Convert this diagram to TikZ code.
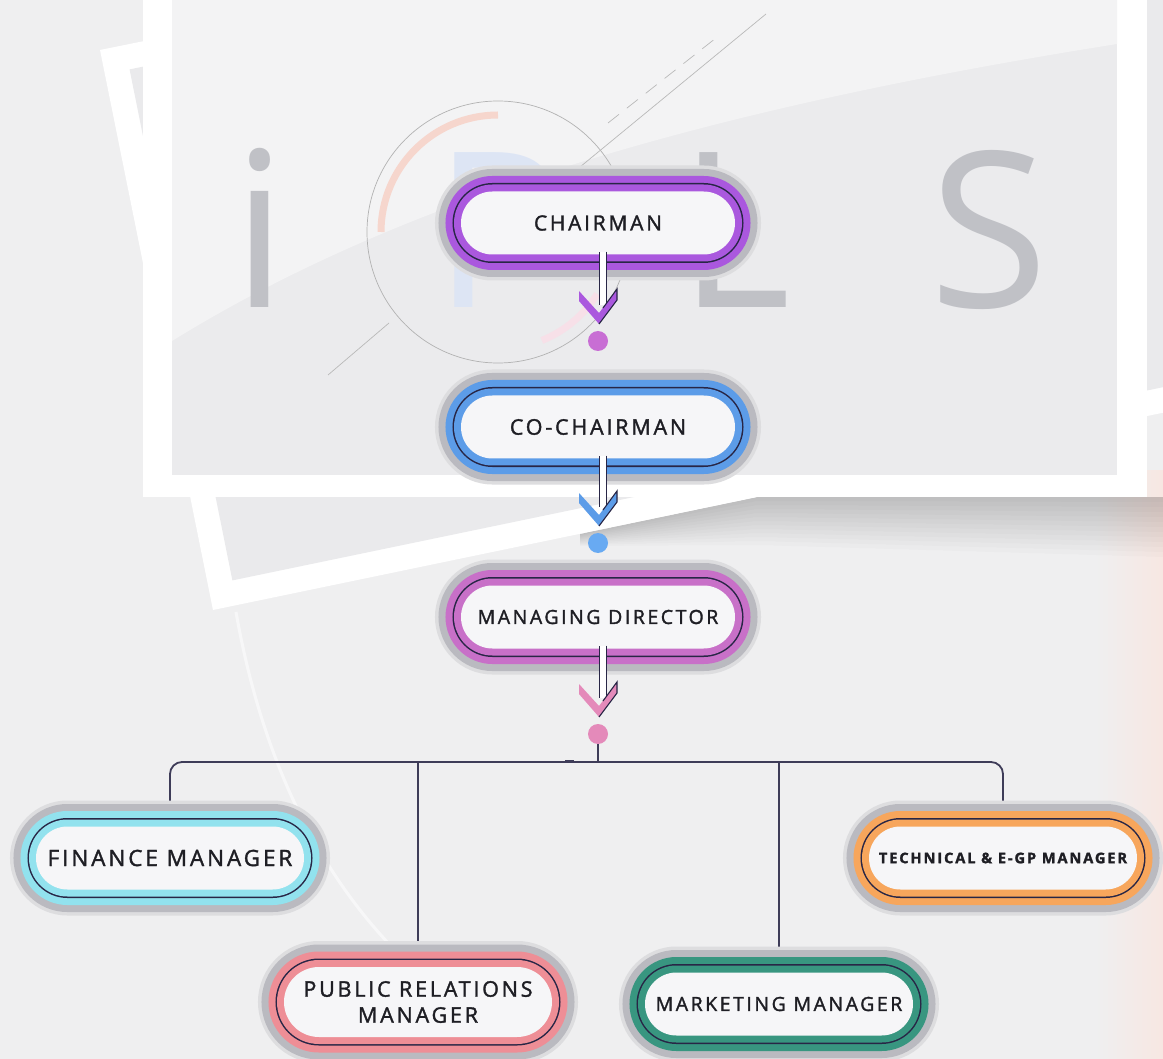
\documentclass[tikz,border=0pt]{standalone}
\usepackage{fontspec}
\setmainfont{Open Sans}
\newfontfamily\rolefont{Open Sans}[LetterSpace=13, FakeBold=1.6]
\newfontfamily\letterfont{Open Sans}
\usetikzlibrary{shapes.misc, calc, positioning}

\definecolor{bgbase}{RGB}{239,239,240}
\definecolor{peach}{RGB}{247,231,226}
\definecolor{panelgray}{RGB}{235,235,237}
\definecolor{panellight}{RGB}{243,243,244}
\definecolor{tiltpanel}{RGB}{234,234,236}
\definecolor{lettergray}{RGB}{192,193,198}
\definecolor{letterblue}{RGB}{221,229,244}
\definecolor{ringsalmon}{RGB}{246,214,205}
\definecolor{ringpink}{RGB}{247,224,232}
\definecolor{shadowgray}{RGB}{186,186,192}
\definecolor{boxwhite}{RGB}{246,246,248}
\definecolor{outlinedark}{RGB}{40,38,70}
\definecolor{textdark}{RGB}{30,30,36}
\definecolor{linkgray}{RGB}{62,60,88}
\definecolor{chairpurple}{RGB}{170,88,222}
\definecolor{chairdot}{RGB}{200,110,212}
\definecolor{cochairblue}{RGB}{92,156,232}
\definecolor{cochairdot}{RGB}{104,170,242}
\definecolor{mdorchid}{RGB}{200,112,200}
\definecolor{mdpink}{RGB}{228,138,186}
\definecolor{financecyan}{RGB}{146,226,238}
\definecolor{techorange}{RGB}{247,166,92}
\definecolor{prpink}{RGB}{238,142,150}
\definecolor{marketteal}{RGB}{56,150,128}

\pgfdeclarelayer{backdrop}
\pgfdeclarelayer{links}
\pgfsetlayers{backdrop,links,main}

% hollow shaft with a coloured chevron, from a box down to its dot
\newcommand{\flowarrow}[3]{%
  \draw[draw=outlinedark, line width=1.1pt, double=white, double distance=6.5pt]
    ($(#1.south)+(5,-3)$) -- ($(#2)+(5,-36)$);
  \fill[#3] ($(#2)+(-19,-50)$) -- ($(#2)+(1,-28)$) -- ($(#2)+(19,-52)$)
    -- ($(#2)+(19,-41)$) -- ($(#2)+(1,-17)$) -- ($(#2)+(-19,-40)$) -- cycle;
  \draw[outlinedark, line width=1.1pt, line join=miter]
    ($(#2)+(5,-33)$) -- ($(#2)+(19,-52)$) -- ($(#2)+(19,-41)$) -- ($(#2)+(1,-17)$);
}

\begin{document}
\begin{tikzpicture}[x=1pt, y=-1pt,
  rolebox/.style={rounded rectangle, minimum width=274pt, minimum height=63pt,
    inner sep=0pt, fill=boxwhite, text=textdark, align=center,
    preaction={draw=shadowgray!50, line width=52pt},
    preaction={draw=shadowgray, line width=45pt},
    preaction={draw=#1, line width=31pt},
    preaction={draw=outlinedark, line width=17pt},
    preaction={draw=#1, line width=14pt}},
  lowbox/.style={rolebox=#1, minimum width=268pt},
  flowdot/.style={circle, fill=#1, minimum size=20pt, inner sep=0pt},
  busline/.style={draw=linkgray, line width=1.8pt},
  letter/.style={inner sep=0pt, anchor=base west,
    font=\letterfont\fontsize{217pt}{217pt}\selectfont},
  rolesize/.style={font=\rolefont\fontsize{#1pt}{26pt}\selectfont},
]
\useasboundingbox (0,0) rectangle (1163,1059);

% Background photo: frames, letters, rings
\begin{pgfonlayer}{backdrop}
\fill[bgbase] (0,0) rectangle (1163,1059);
\shade[left color=bgbase, right color=peach] (1095,470) rectangle (1163,1059);
\draw[white, line width=3pt, opacity=.55] (236,612) .. controls (262,760) and (320,880) .. (410,965);

\foreach \k in {0,...,11}
  \fill[black, opacity=0.016] (580,534) -- (757,497) -- (1163,497) -- ($(1163,497)+(0,5*\k+5)$)
    -- ($(757,497)+(0,4*\k+4)$) -- ($(580,534)+(0,\k+1)$) -- cycle;

\fill[white] (100,50) -- (213,610) -- (1388,366) -- (1275,-189) -- cycle;
\fill[tiltpanel] (129.6,69.4) -- (232.4,580.4) -- (1358.4,346.6) -- (1255.6,-159.4) -- cycle;

\fill[white] (143,0) rectangle (1147,497);
\fill[panelgray] (172,0) rectangle (1117,475);
\fill[panellight] (172,0) -- (1117,0) -- (1117,44) .. controls (700,110) and (400,200) .. (172,341) -- cycle;

\node[letter, text=lettergray] (li) at (232,308) {i};
\node[letter, text=letterblue] (lp) at (433,308) {P};
\node[letter, text=lettergray] (ll) at (678,308) {L};
\node[letter, text=lettergray] (ls) at (929,308) {S};

\draw[gray!60, line width=0.7pt] (498,232) circle (131);
\draw[ringsalmon, line width=7pt] (498,115) arc[start angle=270, end angle=180, radius=117];
\draw[ringpink, line width=7pt] ([shift={(68:117)}]498,232) arc[start angle=68, end angle=32, radius=117];
\draw[gray!55, line width=0.7pt] (328,375) -- (389,323);
\draw[gray!55, line width=0.7pt] (580,167) -- (766,14);
\draw[gray!55, line width=0.7pt, dash pattern=on 14pt off 10pt] (608,123) -- (716,38);
\end{pgfonlayer}

% Boxes
\node[rolebox=chairpurple, rolesize=21] (chair) at (598,223) {CHAIRMAN};
\node[rolebox=cochairblue, rolesize=21.5] (cochair) at (598,427) {CO-CHAIRMAN};
\node[rolebox=mdorchid, rolesize=19.5] (md) at (598,617) {MANAGING DIRECTOR};

\node[lowbox=financecyan, rolesize=22.5] (fin) at (170,858) {FINANCE MANAGER};
\node[lowbox=techorange, font=\rolefont\bfseries\fontsize{14.6pt}{18pt}\selectfont] (tech) at (1003,858) {TECHNICAL \& E-GP MANAGER};
\node[lowbox=prpink, rolesize=21.5, minimum height=70pt] (pr) at (418,1002) {PUBLIC RELATIONS\\MANAGER};
\node[lowbox=marketteal, rolesize=19.5] (mkt) at (779,1004) {MARKETING MANAGER};

% Dots and arrows
\node[flowdot=chairdot] (dot1) at (598,341) {};
\node[flowdot=cochairdot] (dot2) at (598,543) {};
\node[flowdot=mdpink] (dot3) at (598,734) {};

\flowarrow{chair}{dot1}{chairpurple}
\flowarrow{cochair}{dot2}{cochairblue}
\flowarrow{md}{dot3}{mdpink}

% Branches
\coordinate (bus) at (598,762);
\begin{pgfonlayer}{links}
\draw[busline] (dot3) -- (bus);
\draw[busline, rounded corners=12pt] (fin.north) |- (bus) -| (tech.north);
\draw[busline] (pr.north) -- (pr.north |- bus);
\draw[busline] (mkt.north) -- (mkt.north |- bus);
\draw[linkgray, line width=3pt] (565,761) -- (574,761);
\end{pgfonlayer}

\end{tikzpicture}
\end{document}
